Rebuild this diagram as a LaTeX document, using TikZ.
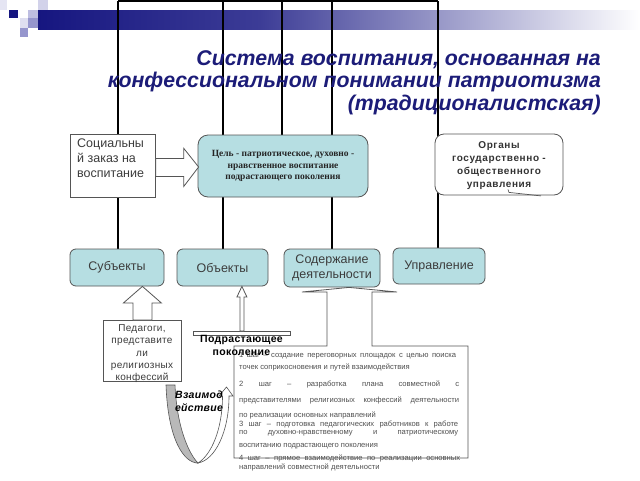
\documentclass[tikz,border=0pt]{standalone}
\usepackage{fontspec}
\setmainfont{Liberation Sans}
\newfontfamily\serifb{Liberation Serif}
\newfontfamily\lsA[LetterSpace=6]{Liberation Sans}
\newfontfamily\lsB[LetterSpace=3]{Liberation Sans}
\usetikzlibrary{calc,backgrounds}
\definecolor{tealfill}{RGB}{182,222,226}
\definecolor{navy}{RGB}{28,28,120}
\definecolor{navydark}{RGB}{22,22,128}
\definecolor{navymid}{RGB}{60,60,150}
\definecolor{bord}{RGB}{85,85,85}
\definecolor{txtg}{RGB}{60,60,60}
\definecolor{stepg}{RGB}{80,80,80}
\definecolor{lav}{RGB}{190,190,225}
\definecolor{lav2}{RGB}{150,150,205}
\begin{document}
\begin{tikzpicture}[x=1pt,y=-1pt,
  tbox/.style={draw=bord, fill=tealfill, rounded corners=6pt, line width=0.8pt, text=txtg, align=center, inner sep=0pt, font=\fontsize{12.5}{14.5}\selectfont},
  wbox/.style={draw=bord, fill=white, line width=0.8pt},
  conn/.style={line width=1.3pt, black},
  steptext/.style={anchor=base west, inner sep=0pt, text=stepg, font=\fontsize{7.6}{8.5}\selectfont},
  titletext/.style={anchor=base east, inner sep=0pt, text=navy, font=\bfseries\itshape\fontsize{21.3}{22}\selectfont}]
\useasboundingbox (0,0) rectangle (640,480);

% nodes
\node[wbox, anchor=north west, minimum width=85, minimum height=63, inner sep=0] (soc) at (70,134) {};
\node[anchor=north west, inner sep=0, align=left, text=txtg, font=\fontsize{12.5}{15}\selectfont] (soctext) at (77,139) {Социальны\\й заказ на\\воспитание};

\node[tbox, minimum width=170, minimum height=62, rounded corners=10pt, text=black!85, font=\serifb\bfseries\fontsize{9.5}{11.2}\selectfont] (goal) at (283,166) {Цель - патриотическое, духовно -\\нравственное воспитание\\подрастающего поколения};

\node[draw=bord, fill=white, rounded corners=9pt, minimum width=128, minimum height=61, line width=0.8pt, inner sep=0] (org) at (499,164.5) {};
\node[align=center, inner sep=0, text=black!80, font=\lsA\bfseries\fontsize{10}{13.3}\selectfont] (orgtext) at (499,165.5) {Органы\\государственно -\\общественного\\управления};

\node[tbox, minimum width=94, minimum height=37] (subj) at (117,267.5) {Субъекты};
\node[tbox, minimum width=91, minimum height=37] (obj) at (222.5,267.5) {Объекты};
\node[tbox, minimum width=96, minimum height=38, font=\fontsize{12.5}{14.5}\selectfont] (cont) at (332,268) {Содержание\\деятельности};
\node[tbox, minimum width=92, minimum height=36] (upr) at (439,266) {Управление};

% background: header and connectors
\begin{scope}[on background layer]
\fill[white] (0,0) rectangle (640,480);
\shade[left color=navydark, right color=navymid] (38,10) rectangle (260,29);
\shade[left color=navymid, right color=white] (259.5,10) rectangle (640,29);
\fill[lav!40] (0,0) rectangle (7,10);
\fill[navydark] (9,10) rectangle (18,18);
\fill[lav] (28,10) rectangle (38,18);
\fill[lav!70] (38,0) rectangle (48,10);
\fill[lav!50] (20,18) rectangle (28,28);
\fill[lav2] (20,28) rectangle (28,37);
\fill[lav2] (28,18) rectangle (38,28);
\coordinate (t1) at (118,1);
\coordinate (t2) at (223,1);
\coordinate (t3) at (282,1);
\coordinate (t4) at (332,1);
\coordinate (t5) at (438,1);
\draw[conn] (t1) -- (t5);
\draw[conn] (t1) -- (t1 |- subj.north);
\draw[conn] (t2) -- (t2 |- obj.north);
\draw[conn] (t3) -- (t3 |- goal.north);
\draw[conn] (t4) -- (t4 |- cont.north);
\draw[conn] (t5) -- (t5 |- upr.north);
\end{scope}

% title
\node[titletext] (title1) at (601,65) {Система воспитания, основанная на};
\node[titletext] (title2) at (601,87.5) {конфессиональном понимании патриотизма};
\node[titletext] (title3) at (601,110) {(традиционалистская)};

% block arrow soc -> goal
\draw[wbox] ($(soc.east)+(0,-7.5)$) -- ++(28,0) -- ++(0,-10) -- ($(goal.west)+(1,1)$) -- ($(soc.east)+(28,20.5)$) -- ++(0,-10) -- ++(-28,0) -- cycle;

% org callout tail
\draw[bord, line width=0.7pt] ($(org.south)+(9,-6)$) -- ($(org.south)+(10,-3)$) -- ($(org.south)+(42,0.5)$);

% Pedagogues
\node[wbox, anchor=north west, minimum width=78, minimum height=61, inner sep=0] (ped) at (103,320) {};
\draw[wbox] ($(ped.north)+(-9.5,0)$) -- ++(0,-17) -- ++(-9.5,0) -- (ped.north |- subj.south) -- ($(ped.north)+(19,-17)$) -- ++(-9.5,0) -- ++(0,17) -- cycle;
\node[anchor=north, align=center, inner sep=0, text=txtg, font=\lsB\fontsize{10}{12.3}\selectfont] (pedtext) at (142,324.5) {Педагоги,\\представите\\ли\\религиозных\\конфессий};

% steps callout
\coordinate (capex) at ($(cont.south)+(17,0)$);
\draw[wbox] (234,346) -- (327,346) -- (327,292) -- (302,292) -- (capex) -- (397,292) -- (372,292) -- (372,346) -- (468,346) -- (468,458) -- (234,458) -- cycle;
\node[steptext] (s1) at (239,357) {\makebox[217pt][s]{1 шаг – создание переговорных площадок с целью поиска}};
\node[steptext] (s2) at (239,369.5) {точек соприкосновения и путей взаимодействия};
\node[steptext] (s3) at (239,386) {\makebox[220pt][s]{2\hfil шаг\hfil –\hfil разработка\hfil плана\hfil совместной\hfil с}};
\node[steptext] (s4) at (239,402) {\makebox[220pt][s]{представителями религиозных конфессий деятельности}};
\node[steptext] (s5) at (239,417) {по реализации основных направлений};
\node[steptext] (s6) at (239,426.5) {\makebox[219pt][s]{3 шаг – подготовка педагогических работников к работе}};
\node[steptext] (s7) at (239,434.5) {\makebox[219pt][s]{по\hfil духовно-нравственному\hfil и\hfil патриотическому}};
\node[steptext] (s8) at (239,447.5) {воспитанию подрастающего поколения};
\node[steptext] (s9) at (239,460.5) {\makebox[221pt][s]{4 шаг – прямое взаимодействие по реализации основных}};
\node[steptext] (s10) at (239,469.5) {направлений совместной деятельности};

% growing generation
\node[wbox, anchor=north west, minimum width=97, minimum height=4, inner sep=0] (podbar) at (193,331) {};
\draw[wbox] ($(podbar.north)+(-2,0)$) -- ++(0,-34) -- ++(-3,0) -- (podbar.north |- obj.south) -- ($(podbar.north)+(5,-34)$) -- ++(-3,0) -- ++(0,34) -- cycle;
\node[anchor=north, align=center, inner sep=0, font=\lsB\bfseries\fontsize{10.5}{13}\selectfont] (podtext) at (241.5,335) {Подрастающее\\поколение};

% U-turn interaction arrow
\fill[gray!55, draw=bord, line width=0.6pt] (166,385) .. controls (168,440) and (184,463) .. (198,463) .. controls (190,455) and (177,430) .. (175,385) -- cycle;
\draw[wbox, line width=0.6pt] (198,463) .. controls (215,460) and (229,432) .. (229,396) -- (233,396) -- (226.5,387) -- (219,396) -- (222.5,396) .. controls (222.5,430) and (211,455) .. (198,463) -- cycle;
\node[align=center, inner sep=0, font=\lsB\bfseries\itshape\fontsize{10.5}{12.5}\selectfont] (uturntext) at (199,401) {Взаимод\\ействие};
\end{tikzpicture}
\end{document}
